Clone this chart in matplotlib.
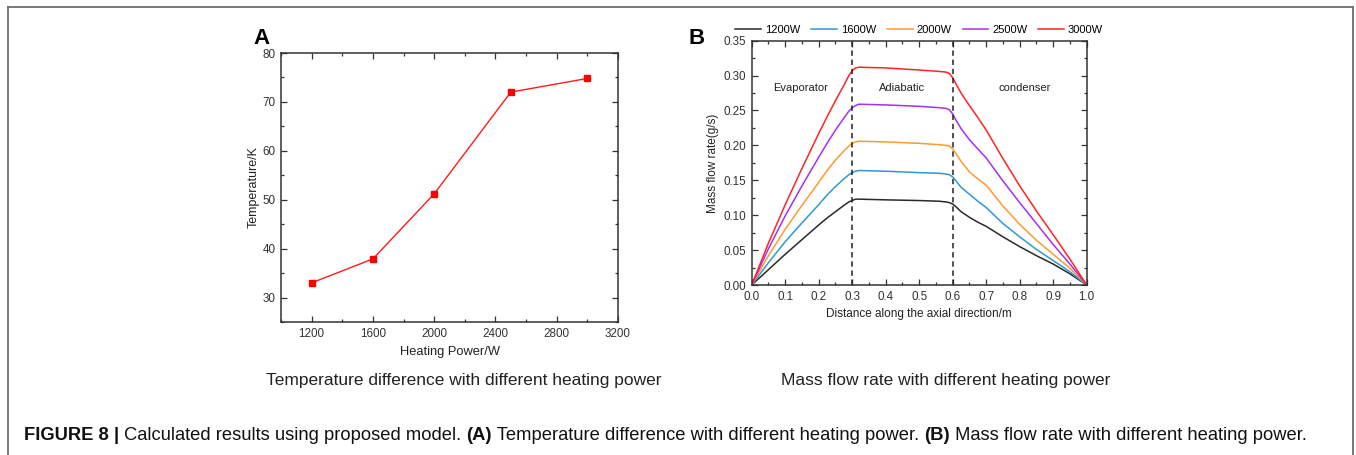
import matplotlib
matplotlib.use("Agg")
import matplotlib.pyplot as plt
from matplotlib.lines import Line2D
from matplotlib.ticker import MultipleLocator, FormatStrFormatter

plt.rcParams['font.family'] = ['Liberation Sans', 'DejaVu Sans']

# ---- Panel A data ----
power_w = [1200, 1600, 2000, 2500, 3000]
temp_diff_k = [33.0, 37.9, 51.2, 72.0, 74.8]

# ---- Panel B data ----
distance_m = [0, 0.05, 0.1, 0.15, 0.2, 0.225, 0.25, 0.275, 0.29, 0.3, 0.31, 0.32, 0.4, 0.5,
              0.56, 0.58, 0.59, 0.6, 0.61, 0.625, 0.65, 0.675, 0.7, 0.75, 0.8, 0.85, 0.9, 0.95, 1.0]
flow_1200 = [0, 0.022, 0.044, 0.065, 0.086, 0.096, 0.105, 0.114, 0.119, 0.121, 0.123, 0.123, 0.122, 0.121,
             0.120, 0.119, 0.118, 0.116, 0.112, 0.105, 0.097, 0.090, 0.084, 0.069, 0.055, 0.042, 0.030, 0.016, 0]
flow_1600 = [0, 0.032, 0.062, 0.089, 0.115, 0.129, 0.141, 0.152, 0.158, 0.161, 0.163, 0.164, 0.163, 0.161,
             0.160, 0.159, 0.158, 0.155, 0.149, 0.140, 0.130, 0.120, 0.111, 0.088, 0.069, 0.051, 0.035, 0.019, 0]
flow_2000 = [0, 0.042, 0.080, 0.114, 0.147, 0.164, 0.179, 0.192, 0.199, 0.203, 0.205, 0.206, 0.205, 0.203,
             0.201, 0.200, 0.199, 0.195, 0.188, 0.177, 0.162, 0.152, 0.143, 0.113, 0.087, 0.064, 0.044, 0.024, 0]
flow_2500 = [0, 0.052, 0.099, 0.142, 0.183, 0.203, 0.222, 0.239, 0.249, 0.254, 0.257, 0.259, 0.258, 0.256,
             0.254, 0.253, 0.251, 0.245, 0.236, 0.224, 0.208, 0.195, 0.182, 0.149, 0.118, 0.088, 0.058, 0.030, 0]
flow_3000 = [0, 0.060, 0.115, 0.167, 0.217, 0.241, 0.264, 0.286, 0.300, 0.307, 0.311, 0.312, 0.311, 0.308,
             0.306, 0.305, 0.303, 0.297, 0.288, 0.275, 0.257, 0.240, 0.222, 0.181, 0.142, 0.106, 0.072, 0.037, 0]
series_labels = ['1200W', '1600W', '2000W', '2500W', '3000W']
series_colors = ['#2a2a2a', '#2f98d6', '#ff9a2e', '#a431f0', '#ff2424']
section_names = ['Evaporator', 'Adiabatic', 'condenser']
section_x = [0.145, 0.449, 0.814]
boundaries = [0.3, 0.6]

W, H = 1356, 455
fig = plt.figure(figsize=(W / 100, H / 100), dpi=100)
fig.patch.set_facecolor('white')

def style_axes(ax):
    for s in ax.spines.values():
        s.set_linewidth(1.1)
        s.set_color('#333333')
    ax.tick_params(which='both', direction='in', top=True, right=True,
                   colors='#333333', labelcolor='#333333', labelsize=8.4, width=0.9)
    ax.tick_params(which='major', length=4.5, pad=4)
    ax.tick_params(which='minor', length=2.5)

# ---- Panel A ----
axA = fig.add_axes([281 / W, 1 - 322 / H, (618 - 281) / W, (322 - 53) / H])
axA.plot(power_w, temp_diff_k, color='#ff1a1a', lw=1.0, marker='s', ms=4.5,
         markerfacecolor='#ff0000', markeredgecolor='#ff0000')
axA.set_xlim(1000, 3200)
axA.set_ylim(25, 80)
axA.xaxis.set_minor_locator(MultipleLocator(200))
axA.set_xticks([1200, 1600, 2000, 2400, 2800, 3200])
axA.yaxis.set_minor_locator(MultipleLocator(5))
axA.set_yticks([30, 40, 50, 60, 70, 80])
style_axes(axA)
axA.set_xlabel('Heating Power/W', fontsize=9.3, color='#222222', labelpad=5)
axA.set_ylabel('Temperature/K', fontsize=9, color='#222222', labelpad=2)
fig.text(262 / W, 1 - 38 / H, 'A', fontsize=16, fontweight='bold', ha='center', va='center')

# ---- Panel B ----
axB = fig.add_axes([751.7 / W, 1 - 285 / H, (1086.7 - 751.7) / W, (285 - 40.7) / H])
all_flows = [flow_1200, flow_1600, flow_2000, flow_2500, flow_3000]
for vals, lab, col in zip(all_flows, series_labels, series_colors):
    axB.plot(distance_m, vals, color=col, lw=1.1, label=lab)
for b in boundaries:
    axB.axvline(b, color='#222222', lw=1.1, ls=(0, (3.5, 2.5)))
for name, xx in zip(section_names, section_x):
    axB.text(xx, 0.282, name, fontsize=8, ha='center', va='center', color='#222222')
axB.set_xlim(0, 1.0)
axB.set_ylim(0, 0.35)
axB.xaxis.set_major_locator(MultipleLocator(0.1))
axB.xaxis.set_minor_locator(MultipleLocator(0.05))
axB.yaxis.set_major_locator(MultipleLocator(0.05))
axB.yaxis.set_minor_locator(MultipleLocator(0.025))
axB.xaxis.set_major_formatter(FormatStrFormatter('%.1f'))
axB.yaxis.set_major_formatter(FormatStrFormatter('%.2f'))
style_axes(axB)
axB.set_xlabel('Distance along the axial direction/m', fontsize=8.5, color='#222222', labelpad=4)
axB.set_ylabel('Mass flow rate(g/s)', fontsize=8.5, color='#222222', labelpad=3)
axB.legend(loc='lower center', bbox_to_anchor=(0.5, 0.995), ncol=5, frameon=False,
           fontsize=8, handlelength=2.3, columnspacing=1.0, handletextpad=0.35,
           borderaxespad=0.2)
fig.text(697 / W, 1 - 38 / H, 'B', fontsize=16, fontweight='bold', ha='center', va='center')

# ---- subtitles ----
fig.text(464 / W, 1 - 381 / H, 'Temperature difference with different heating power',
         fontsize=12.5, ha='center', va='center', color='#222222')
fig.text(946 / W, 1 - 381 / H, 'Mass flow rate with different heating power',
         fontsize=12.5, ha='center', va='center', color='#222222')

# ---- caption with mixed weights ----
pieces = [('FIGURE 8 |', 'bold'), (' Calculated results using proposed model. ', 'normal'),
          ('(A)', 'bold'), (' Temperature difference with different heating power. ', 'normal'),
          ('(B)', 'bold'), (' Mass flow rate with different heating power.', 'normal')]
fig.canvas.draw()
renderer = fig.canvas.get_renderer()
xpos = 24
for txt, wt in pieces:
    t = fig.text(xpos / W, 1 - 435 / H, txt, fontsize=13.2, fontweight=wt,
                 ha='left', va='center', color='#111111')
    bb = t.get_window_extent(renderer=renderer)
    xpos += bb.width

# ---- frame border ----
border = dict(color='#6e6e6e', lw=1.3, transform=fig.transFigure)
fig.add_artist(Line2D([8 / W, 1353 / W], [1 - 6.5 / H, 1 - 6.5 / H], **border))
fig.add_artist(Line2D([8 / W, 8 / W], [0, 1 - 6.5 / H], **border))
fig.add_artist(Line2D([1353 / W, 1353 / W], [0, 1 - 6.5 / H], **border))

fig.savefig('out.png', dpi=100, facecolor='white')
